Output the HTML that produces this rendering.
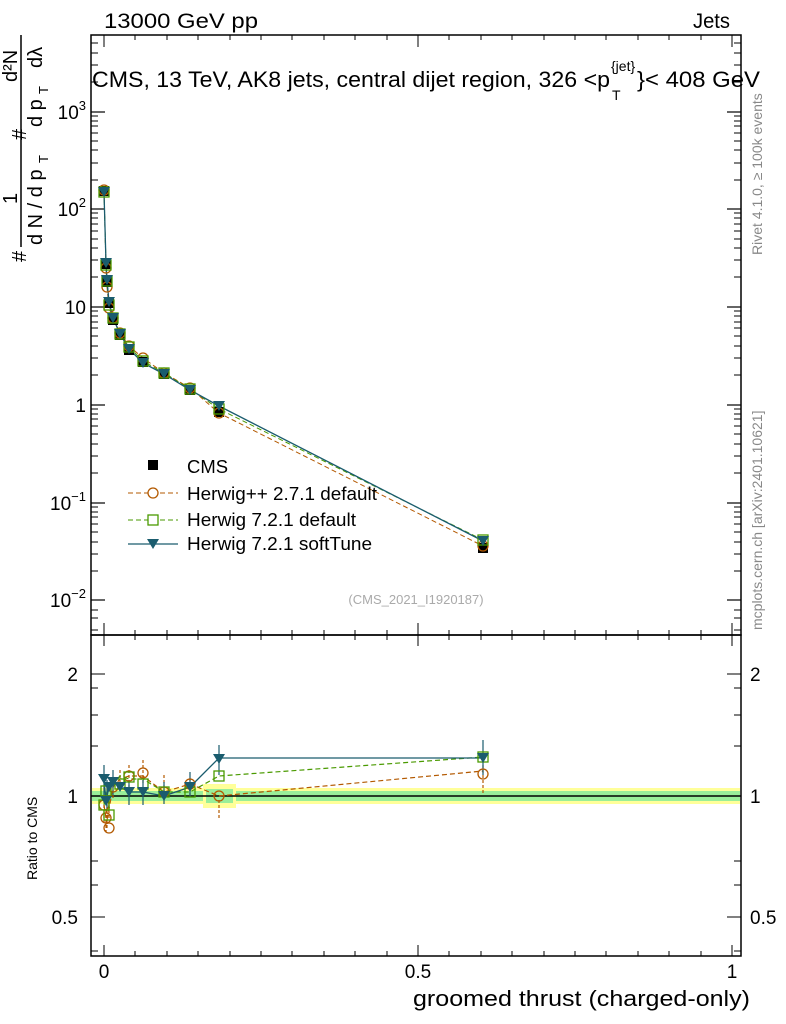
<!DOCTYPE html><html><head><style>body{margin:0;background:#fff}svg{display:block;font-family:"Liberation Sans",sans-serif}</style></head><body>
<svg width="786" height="1024" viewBox="0 0 786 1024" xmlns="http://www.w3.org/2000/svg">
<rect width="786" height="1024" fill="#fff"/>
<text x="104" y="28" font-size="21" textLength="154" lengthAdjust="spacingAndGlyphs">13000 GeV pp</text>
<text x="693" y="28" font-size="21" textLength="37" lengthAdjust="spacingAndGlyphs">Jets</text>
<text x="92" y="87" font-size="22" textLength="518" lengthAdjust="spacingAndGlyphs">CMS, 13 TeV, AK8 jets, central dijet region, 326 &lt;p</text>
<text x="612" y="100" font-size="14">T</text><text x="611" y="71" font-size="14">{jet}</text>
<text x="637" y="87" font-size="22" textLength="123" lengthAdjust="spacingAndGlyphs">}&lt; 408 GeV</text>
<text transform="translate(762,255) rotate(-90)" font-size="14" fill="#888">Rivet 4.1.0, ≥ 100k events</text>
<text transform="translate(762,630) rotate(-90)" font-size="14" fill="#888">mcplots.cern.ch [arXiv:2401.10621]</text>
<text x="416" y="604" font-size="13" fill="#aaa" text-anchor="middle">(CMS_2021_I1920187)</text>
<g font-size="20">
<text transform="translate(26,262) rotate(-90)">#</text>
<line x1="21" y1="247" x2="21" y2="35" stroke="#000" stroke-width="1.5"/>
<text transform="translate(17,204) rotate(-90)">1</text>
<text transform="translate(42,245) rotate(-90)">d N / d p</text>
<text transform="translate(48,163) rotate(-90)" font-size="13">T</text>
<text transform="translate(26,140) rotate(-90)">#</text>
<text transform="translate(42,127) rotate(-90)">d p</text>
<text transform="translate(48,94) rotate(-90)" font-size="13">T</text>
<text transform="translate(17,82) rotate(-90)">d²N</text>
<text transform="translate(42,68) rotate(-90)">dλ</text>
</g>
<rect x="91" y="35" width="650" height="600" fill="none" stroke="#000" stroke-width="1.5"/>
<rect x="91" y="635" width="650" height="321" fill="none" stroke="#000" stroke-width="1.5"/>
<g stroke="#000" stroke-width="1.2">
<line x1="91" y1="112" x2="105" y2="112"/><line x1="741" y1="112" x2="727" y2="112"/>
<line x1="91" y1="209" x2="105" y2="209"/><line x1="741" y1="209" x2="727" y2="209"/>
<line x1="91" y1="307" x2="105" y2="307"/><line x1="741" y1="307" x2="727" y2="307"/>
<line x1="91" y1="405" x2="105" y2="405"/><line x1="741" y1="405" x2="727" y2="405"/>
<line x1="91" y1="503" x2="105" y2="503"/><line x1="741" y1="503" x2="727" y2="503"/>
<line x1="91" y1="600" x2="105" y2="600"/><line x1="741" y1="600" x2="727" y2="600"/>
</g>
<g stroke="#000" stroke-width="1">
<path d="M91 180h7M91 163h7M91 150h7M91 141h7M91 133h7M91 126h7M91 121h7M91 116h7M91 82h7M91 65h7M91 53h7M91 43h7 M91 277h7M91 260h7M91 248h7M91 239h7M91 231h7M91 224h7M91 218h7M91 213h7 M91 375h7M91 358h7M91 346h7M91 336h7M91 328h7M91 322h7M91 316h7M91 311h7 M91 473h7M91 456h7M91 444h7M91 434h7M91 426h7M91 419h7M91 414h7M91 409h7 M91 571h7M91 554h7M91 542h7M91 532h7M91 524h7M91 517h7M91 512h7M91 507h7 M91 630h7M91 618h7M91 610h7"/>
<path d="M741 180h-7M741 163h-7M741 150h-7M741 141h-7M741 133h-7M741 126h-7M741 121h-7M741 116h-7M741 82h-7M741 65h-7M741 53h-7M741 43h-7 M741 277h-7M741 260h-7M741 248h-7M741 239h-7M741 231h-7M741 224h-7M741 218h-7M741 213h-7 M741 375h-7M741 358h-7M741 346h-7M741 336h-7M741 328h-7M741 322h-7M741 316h-7M741 311h-7 M741 473h-7M741 456h-7M741 444h-7M741 434h-7M741 426h-7M741 419h-7M741 414h-7M741 409h-7 M741 571h-7M741 554h-7M741 542h-7M741 532h-7M741 524h-7M741 517h-7M741 512h-7M741 507h-7 M741 630h-7M741 618h-7M741 610h-7"/>
</g>
<g font-size="19" text-anchor="end">
<text x="86" y="119">10<tspan font-size="13" dy="-9">3</tspan></text>
<text x="86" y="216">10<tspan font-size="13" dy="-9">2</tspan></text>
<text x="86" y="314">10</text>
<text x="86" y="412">1</text>
<text x="86" y="510">10<tspan font-size="13" dy="-9">−1</tspan></text>
<text x="86" y="607">10<tspan font-size="13" dy="-9">−2</tspan></text>
</g>
<g stroke="#000" stroke-width="1">
<path d="M104 635v-12M418 635v-12M732 635v-12M104 956v-11M418 956v-11M732 956v-11M104 35v12M418 35v12M732 35v12M104 635v11M418 635v11M732 635v11"/>
<path d="M135 635v-5M167 635v-5M198 635v-5M230 635v-5M261 635v-5M292 635v-5M324 635v-5M355 635v-5M387 635v-5M449 635v-5M481 635v-5M512 635v-5M544 635v-5M575 635v-5M606 635v-5M638 635v-5M669 635v-5M701 635v-5"/>
<path d="M135 956v-5M167 956v-5M198 956v-5M230 956v-5M261 956v-5M292 956v-5M324 956v-5M355 956v-5M387 956v-5M449 956v-5M481 956v-5M512 956v-5M544 956v-5M575 956v-5M606 956v-5M638 956v-5M669 956v-5M701 956v-5"/>
<path d="M135 35v5M167 35v5M198 35v5M230 35v5M261 35v5M292 35v5M324 35v5M355 35v5M387 35v5M449 35v5M481 35v5M512 35v5M544 35v5M575 35v5M606 35v5M638 35v5M669 35v5M701 35v5"/>
<path d="M135 635v5M167 635v5M198 635v5M230 635v5M261 635v5M292 635v5M324 635v5M355 635v5M387 635v5M449 635v5M481 635v5M512 635v5M544 635v5M575 635v5M606 635v5M638 635v5M669 635v5M701 635v5"/>
</g>
<g font-size="19" text-anchor="middle"><text x="104" y="978">0</text><text x="418" y="978">0.5</text><text x="732" y="978">1</text></g>
<text x="413" y="1006" font-size="22" textLength="337" lengthAdjust="spacingAndGlyphs">groomed thrust (charged-only)</text>
<polyline fill="none" stroke="#b35900" stroke-dasharray="5,3" points="104,190 106,268 107,287 109,308 113,318 120,333 129,346 143,358 164,373 190,388 219,413 483,546"/>
<polyline fill="none" stroke="#4a9a00" stroke-dasharray="5,3" points="104,192 106,265 107,281 109,305 113,318 120,334 129,347 143,361 164,373 190,389 219,409 483,540"/>
<polyline fill="none" stroke="#1a5c6e" stroke-width="1.3" points="104,192 106,263 107,280 109,302 113,318 120,334 129,349 143,363 164,374 190,390 219,406 483,541"/>
<g fill="#000">
<rect x="99" y="186" width="10" height="10"/><rect x="101" y="259" width="10" height="10"/><rect x="102" y="277" width="10" height="10"/><rect x="104" y="298" width="10" height="10"/><rect x="108" y="315" width="10" height="10"/><rect x="115" y="330" width="10" height="10"/><rect x="124" y="345" width="10" height="10"/><rect x="138" y="357" width="10" height="10"/><rect x="159" y="369" width="10" height="10"/><rect x="185" y="385" width="10" height="10"/><rect x="214" y="407" width="10" height="10"/><rect x="478" y="543" width="10" height="10"/>
</g>
<g fill="none" stroke="#b35900" stroke-width="1.3">
<circle cx="104" cy="190" r="5"/><circle cx="106" cy="268" r="5"/><circle cx="107" cy="287" r="5"/><circle cx="109" cy="308" r="5"/><circle cx="113" cy="318" r="5"/><circle cx="120" cy="333" r="5"/><circle cx="129" cy="346" r="5"/><circle cx="143" cy="358" r="5"/><circle cx="164" cy="373" r="5"/><circle cx="190" cy="388" r="5"/><circle cx="219" cy="413" r="5"/><circle cx="483" cy="546" r="5"/>
</g>
<g fill="none" stroke="#4a9a00" stroke-width="1.3">
<rect x="99" y="187" width="10" height="10"/><rect x="101" y="260" width="10" height="10"/><rect x="102" y="276" width="10" height="10"/><rect x="104" y="300" width="10" height="10"/><rect x="108" y="313" width="10" height="10"/><rect x="115" y="329" width="10" height="10"/><rect x="124" y="342" width="10" height="10"/><rect x="138" y="356" width="10" height="10"/><rect x="159" y="368" width="10" height="10"/><rect x="185" y="384" width="10" height="10"/><rect x="214" y="404" width="10" height="10"/><rect x="478" y="535" width="10" height="10"/>
</g>
<g fill="#1a5c6e">
<path d="M98,187h12l-6,10z M100,258h12l-6,10z M101,275h12l-6,10z M103,297h12l-6,10z M107,313h12l-6,10z M114,329h12l-6,10z M123,344h12l-6,10z M137,358h12l-6,10z M158,369h12l-6,10z M184,385h12l-6,10z M213,401h12l-6,10z M477,536h12l-6,10z"/>
</g>
<rect x="148" y="460" width="10" height="10" fill="#000"/>
<text x="187" y="473" font-size="18" textLength="41" lengthAdjust="spacingAndGlyphs">CMS</text>
<line x1="128" y1="493" x2="178" y2="493" stroke="#b35900" stroke-dasharray="5,3"/><circle cx="153" cy="493" r="5" fill="#fff" stroke="#b35900" stroke-width="1.3"/>
<text x="187" y="500" font-size="18" textLength="190" lengthAdjust="spacingAndGlyphs">Herwig++ 2.7.1 default</text>
<line x1="128" y1="520" x2="178" y2="520" stroke="#4a9a00" stroke-dasharray="5,3"/><rect x="148" y="515" width="10" height="10" fill="#fff" stroke="#4a9a00" stroke-width="1.3"/>
<text x="187" y="526" font-size="18" textLength="169" lengthAdjust="spacingAndGlyphs">Herwig 7.2.1 default</text>
<line x1="128" y1="544" x2="178" y2="544" stroke="#1a5c6e" stroke-width="1.3"/><path d="M147,539h12l-6,10z" fill="#1a5c6e"/>
<text x="187" y="550" font-size="18" textLength="185" lengthAdjust="spacingAndGlyphs">Herwig 7.2.1 softTune</text>
<rect x="92" y="788" width="648" height="16" fill="#ffff99"/>
<rect x="92" y="791" width="648" height="10" fill="#99ee99"/>
<rect x="203" y="784" width="33" height="24" fill="#ffff99"/>
<rect x="206" y="789" width="27" height="14" fill="#99ee99"/>
<line x1="91" y1="796" x2="741" y2="796" stroke="#000" stroke-width="1.5"/>
<g stroke="#000"><path d="M91 674h14M741 674h-14M91 796h14M741 796h-14M91 917h14M741 917h-14 M91 746h7M91 715h7M91 688h7M91 861h7M91 885h7M91 951h7M741 746h-7M741 715h-7M741 688h-7M741 861h-7M741 885h-7M741 951h-7"/></g>
<g font-size="19"><text x="78" y="681" text-anchor="end">2</text><text x="78" y="803" text-anchor="end">1</text><text x="78" y="924" text-anchor="end">0.5</text>
<text x="750" y="681">2</text><text x="750" y="803">1</text><text x="750" y="924">0.5</text></g>
<text transform="translate(37,880) rotate(-90)" font-size="14">Ratio to CMS</text>
<g stroke-width="1.2">
<path d="M104 795v28M106 810v22M107 805v25M109 795v25M113 780v20M120 770v20M129 765v22M143 760v25M164 775v18M190 778v20M219 800v18M483 755v40" stroke="#b35900" stroke-dasharray="3,2" fill="none"/>
<polyline fill="none" stroke="#b35900" stroke-dasharray="5,3" points="104,805 106,818 107,820 109,809 113,787 120,779 129,776 143,776 164,792 190,784 219,796 483,771"/>
<polyline fill="none" stroke="#4a9a00" stroke-dasharray="5,3" points="104,805 106,791 107,796 109,787 113,784 120,776 129,779 143,779 164,792 190,792 219,776 483,757"/>
<polyline fill="none" stroke="#1a5c6e" stroke-width="1.3" points="104,779 106,801 107,796 109,787 113,782 120,787 129,792 143,792 164,796 190,787 219,758 483,758"/>
<path d="M104 765v30M107 780v30M113 770v25M129 780v25M143 780v25M164 782v22M190 772v25M219 745v30M483 740v35" stroke="#1a5c6e" fill="none"/>
</g>
<g fill="none" stroke="#b35900" stroke-width="1.3"><circle cx="104" cy="805" r="5"/><circle cx="106" cy="818" r="5"/><circle cx="109" cy="828" r="5"/><circle cx="113" cy="787" r="5"/><circle cx="129" cy="776" r="5"/><circle cx="143" cy="773" r="5"/><circle cx="164" cy="792" r="5"/><circle cx="190" cy="784" r="5"/><circle cx="219" cy="796" r="5"/><circle cx="483" cy="774" r="5"/></g>
<g fill="none" stroke="#4a9a00" stroke-width="1.3"><rect x="99" y="800" width="10" height="10"/><rect x="101" y="786" width="10" height="10"/><rect x="104" y="810" width="10" height="10"/><rect x="115" y="779" width="10" height="10"/><rect x="124" y="772" width="10" height="10"/><rect x="138" y="779" width="10" height="10"/><rect x="159" y="787" width="10" height="10"/><rect x="185" y="787" width="10" height="10"/><rect x="214" y="771" width="10" height="10"/><rect x="478" y="752" width="10" height="10"/></g>
<g fill="#1a5c6e"><path d="M98,774h12l-6,10z M100,796h12l-6,10z M103,782h12l-6,10z M107,777h12l-6,10z M114,782h12l-6,10z M123,787h12l-6,10z M137,787h12l-6,10z M158,791h12l-6,10z M184,782h12l-6,10z M213,754h12l-6,10z M477,753h12l-6,10z"/></g>
</svg>
</body></html>
